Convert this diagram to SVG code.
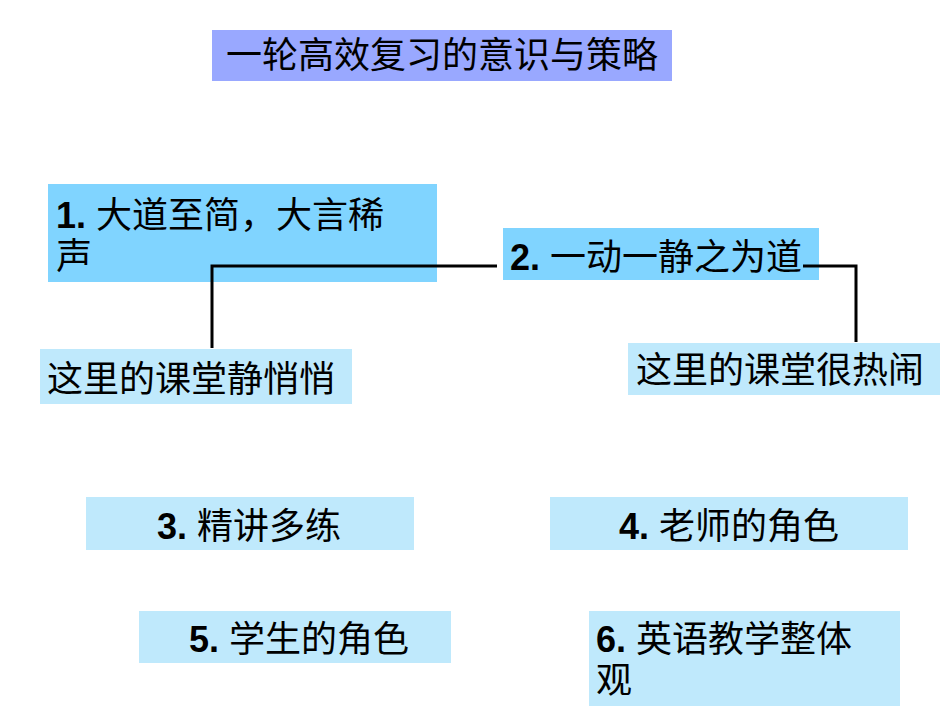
<svg xmlns="http://www.w3.org/2000/svg" width="950" height="713" viewBox="0 0 950 713">
<style>
text{font-family:"Liberation Sans","Noto Sans CJK SC",sans-serif;font-size:36px;fill:#000}
tspan.b{font-weight:bold}
.d{fill:#80d4ff}.l{fill:#bfe9fc}
.c{stroke:#000;stroke-width:3;fill:none}
</style>
<rect width="950" height="713" fill="#fff"/>
<g id="title"><rect x="212" y="30" width="460" height="51" fill="#99a8ff"/><text x="442" y="68" text-anchor="middle" font-size="36">一轮高效复习的意识与策略</text></g>
<g id="n1"><rect class="d" x="48" y="184" width="389" height="98"/><text x="56" y="228"><tspan class="b">1.</tspan> 大道至简，大言稀</text><text x="56" y="269">声</text></g>
<g id="n2"><rect class="d" x="503" y="228" width="316" height="52"/><text x="510" y="270"><tspan class="b">2.</tspan> 一动一静之为道</text></g>
<g id="quiet"><rect class="l" x="40" y="349" width="312" height="55"/><text x="47" y="392">这里的课堂静悄悄</text></g>
<g id="lively"><rect class="l" x="628" y="343" width="312" height="52"/><text x="636" y="383">这里的课堂很热闹</text></g>
<g id="n3"><rect class="l" x="86" y="497" width="328" height="53"/><text x="157" y="539"><tspan class="b">3.</tspan> 精讲多练</text></g>
<g id="n4"><rect class="l" x="550" y="497" width="358" height="53"/><text x="619" y="539"><tspan class="b">4.</tspan> 老师的角色</text></g>
<g id="n5"><rect class="l" x="139" y="611" width="312" height="52"/><text x="189" y="652"><tspan class="b">5.</tspan> 学生的角色</text></g>
<g id="n6"><rect class="l" x="589" y="611" width="311" height="95"/><text x="596" y="652"><tspan class="b">6.</tspan> 英语教学整体</text><text x="596" y="693">观</text></g>
<g id="connectors"><path class="c" d="M212 348V266H497"/><path class="c" d="M803 266H856V342"/></g>
</svg>
